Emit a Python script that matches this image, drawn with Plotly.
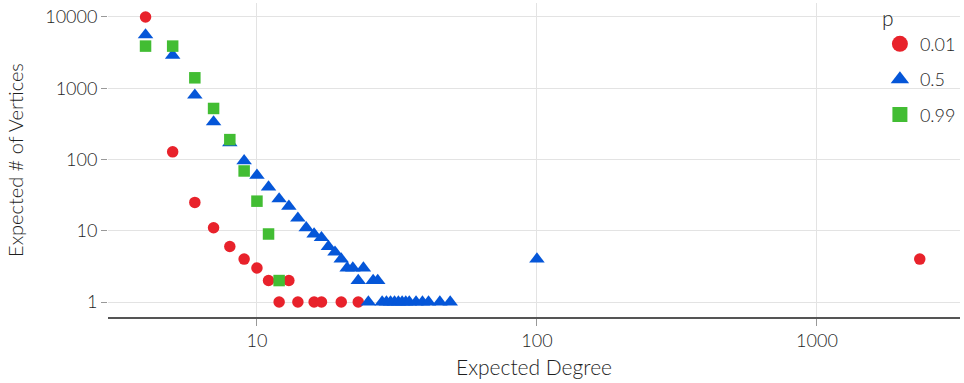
import plotly.graph_objects as go

# Data
red_x = [4, 5, 6, 7, 8, 9, 10, 11, 12, 13, 14, 16, 17, 20, 23, 2330]
red_y = [10000, 128, 25, 11, 6, 4, 3, 2, 1, 2, 1, 1, 1, 1, 1, 4]

blue_x = [4, 5, 6, 7, 8, 9, 10, 11, 12, 13, 14, 15, 16, 17, 18, 19, 20, 21, 22, 24,
          23, 26, 27, 25, 28, 29, 30, 31, 32, 33, 34, 35, 37, 39, 41, 45, 49, 100]
blue_y = [5600, 2900, 800, 336, 171, 96, 60, 41, 28, 22, 15, 11, 9, 8, 6, 5, 4, 3, 3, 3,
          2, 2, 2, 1, 1, 1, 1, 1, 1, 1, 1, 1, 1, 1, 1, 1, 1, 4]

green_x = [4, 5, 6, 7, 8, 9, 10, 11, 12]
green_y = [3900, 3900, 1400, 520, 190, 69, 26, 9, 2]

series_names = ["0.01", "0.5", "0.99"]
colors = ["#E8222B", "#0556D8", "#42BD33"]
symbols = ["circle", "triangle-up", "square"]
sizes = [11.5, 13.5, 11.5]
legend_sizes = [16, 16, 15]

x_ticks = [10, 100, 1000]
x_ticklabels = ["10", "100", "1000"]
y_ticks = [1, 10, 100, 1000, 10000]
y_ticklabels = ["1", "10", "100", "1000", "10000"]

FONT = "Lato"
W = 300
TXT = "#1e1e1e"

fig = go.Figure()
data = [(red_x, red_y), (blue_x, blue_y), (green_x, green_y)]
for i, (xs, ys) in enumerate(data):
    fig.add_trace(go.Scatter(
        x=xs, y=ys, mode="markers", name=series_names[i],
        marker=dict(color=colors[i], symbol=symbols[i], size=sizes[i], line=dict(width=0)),
        showlegend=False, legendgroup=series_names[i],
    ))
# legend entries (larger markers, no data)
for i in range(3):
    fig.add_trace(go.Scatter(
        x=[None], y=[None], mode="markers", name=series_names[i],
        marker=dict(color=colors[i], symbol=symbols[i], size=legend_sizes[i], line=dict(width=0)),
        showlegend=True, legendgroup=series_names[i],
    ))

fig.update_layout(
    width=964, height=383,
    margin=dict(l=108, r=4, t=3, b=66, autoexpand=False),
    plot_bgcolor="white", paper_bgcolor="white",
    font=dict(family=FONT, color=TXT, size=18, weight=W),
    legend=dict(
        x=0.906, xanchor="left", y=1.015, yanchor="top",
        bgcolor="rgba(0,0,0,0)",
        title=dict(text="p", font=dict(size=21, color=TXT, weight=W)),
        font=dict(size=18, color=TXT, weight=W),
        tracegroupgap=9,
    ),
    xaxis=dict(
        type="log", range=[0.468, 3.511],
        tickvals=x_ticks, ticktext=x_ticklabels,
        showgrid=True, gridcolor="#E3E3E3", gridwidth=1,
        showline=True, linecolor="#555555", linewidth=1.5,
        ticks="outside", ticklen=7, tickcolor="#999999",
        tickfont=dict(size=18, color=TXT, weight=W),
        title=dict(text="Expected Degree", font=dict(size=21, color=TXT, weight=W), standoff=10),
        zeroline=False,
    ),
    yaxis=dict(
        type="log", range=[-0.2105, 4.196],
        tickvals=y_ticks, ticktext=y_ticklabels,
        showgrid=True, gridcolor="#E3E3E3", gridwidth=1,
        showline=False,
        ticks="outside", ticklen=6, tickcolor="#999999",
        tickfont=dict(size=18, color=TXT, weight=W),
        zeroline=False,
    ),
    annotations=[dict(
        text="Expected # of Vertices", textangle=-90,
        xref="paper", yref="paper", x=-0.1092, y=0.5,
        xanchor="center", yanchor="middle", showarrow=False,
        font=dict(size=20, color=TXT, weight=W, family=FONT),
    )],
)

fig.write_html("out.html")
